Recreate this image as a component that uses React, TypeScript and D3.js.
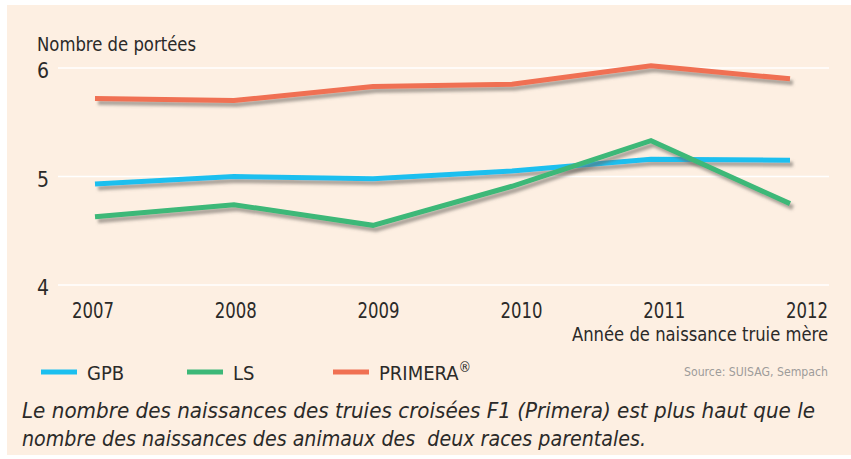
import { useMemo } from 'react'
import * as d3 from 'd3'

const YEARS = ['2007', '2008', '2009', '2010', '2011', '2012']
const GPB = [4.93, 5.0, 4.98, 5.05, 5.16, 5.15]
const LS = [4.63, 4.74, 4.55, 4.91, 5.33, 4.75]
const PRIMERA = [5.72, 5.7, 5.83, 5.85, 6.02, 5.9]
const Y_TICKS = [4, 5, 6]

const SERIES = [
  { name: 'GPB', values: GPB, color: '#1cbfef' },
  { name: 'LS', values: LS, color: '#3cb878' },
  { name: 'PRIMERA', values: PRIMERA, color: '#f07052' },
]

const FONT = "'Liberation Sans Narrow', 'DejaVu Sans Condensed', 'Open Sans', sans-serif"
const INK = '#2b2a29'

export default function App() {
  const width = 851
  const height = 459

  const x = useMemo(() => d3.scalePoint().domain(YEARS).range([95, 790]), [])
  // year labels sit on a slightly wider spread than the data points
  const xLabel = useMemo(() => d3.scalePoint().domain(YEARS).range([93, 807]), [])
  const y = useMemo(() => d3.scaleLinear().domain([4, 6]).range([285, 68]), [])

  const line = d3.line<number>()
    .x((_, i) => x(YEARS[i]) as number)
    .y(d => y(d))

  return (
    <svg width={width} height={height} style={{ position: 'absolute', left: 0, top: 0 }}
      fontFamily={FONT}>
      <defs>
        <filter id="shadow" x="-5%" y="-20%" width="110%" height="160%">
          <feDropShadow dx="3" dy="4" stdDeviation="1.6" floodColor="#6b6560" floodOpacity="0.55" />
        </filter>
      </defs>
      <rect width={width} height={height} fill="#ffffff" />
      <rect x={7} y={5} width={width - 7} height={450} fill="#fdefe2" />

      {/* grid */}
      {Y_TICKS.map(t => (
        <g key={t}>
          <line x1={58} x2={829} y1={y(t)} y2={y(t)} stroke="#ffffff" strokeWidth={1.5} />
          <text x={37} y={y(t) + 10} fontSize={21} fill={INK}>{t}</text>
        </g>
      ))}

      <text x={37} y={51} fontSize={20} fill={INK} textLength={159} lengthAdjust="spacingAndGlyphs">
        Nombre de portées
      </text>

      {/* lines */}
      {SERIES.map(s => (
        <path key={s.name} d={line(s.values) ?? ''} fill="none" stroke={s.color}
          strokeWidth={5} strokeLinejoin="miter" filter="url(#shadow)" />
      ))}

      {/* x labels */}
      {YEARS.map((yr, i) => {
        const last = i === YEARS.length - 1
        return (
          <text key={yr} x={(xLabel(yr) as number) + (last ? 21 : 0)} y={318} fontSize={21} fill={INK}
            textAnchor={last ? 'end' : 'middle'} textLength={42} lengthAdjust="spacingAndGlyphs">
            {yr}
          </text>
        )
      })}
      <text x={828} y={341} fontSize={19} fill={INK} textAnchor="end"
        textLength={256} lengthAdjust="spacingAndGlyphs">
        Année de naissance truie mère
      </text>

      {/* legend */}
      {SERIES.map((s, i) => {
        const lx = 41 + i * 146
        return (
          <g key={s.name}>
            <line x1={lx} x2={lx + 36} y1={372} y2={372} stroke={s.color} strokeWidth={5} />
            <text x={lx + 46} y={380} fontSize={20} fill={INK}>
              {s.name}
              {s.name === 'PRIMERA' && <tspan dy={-8} fontSize={14}>®</tspan>}
            </text>
          </g>
        )
      })}
      <text x={828} y={376} fontSize={13} fill="#9e9c9a" textAnchor="end"
        textLength={144} lengthAdjust="spacingAndGlyphs">
        Source: SUISAG, Sempach
      </text>

      {/* caption */}
      <text x={22} y={418} fontSize={22} fontStyle="italic" fill={INK}
        textLength={793} lengthAdjust="spacingAndGlyphs">
        Le nombre des naissances des truies croisées F1 (Primera) est plus haut que le
      </text>
      <text x={22} y={446} fontSize={22} fontStyle="italic" fill={INK} style={{ whiteSpace: 'pre' }}
        textLength={624} lengthAdjust="spacingAndGlyphs">
        {'nombre des naissances des animaux des  deux races parentales.'}
      </text>
    </svg>
  )
}
